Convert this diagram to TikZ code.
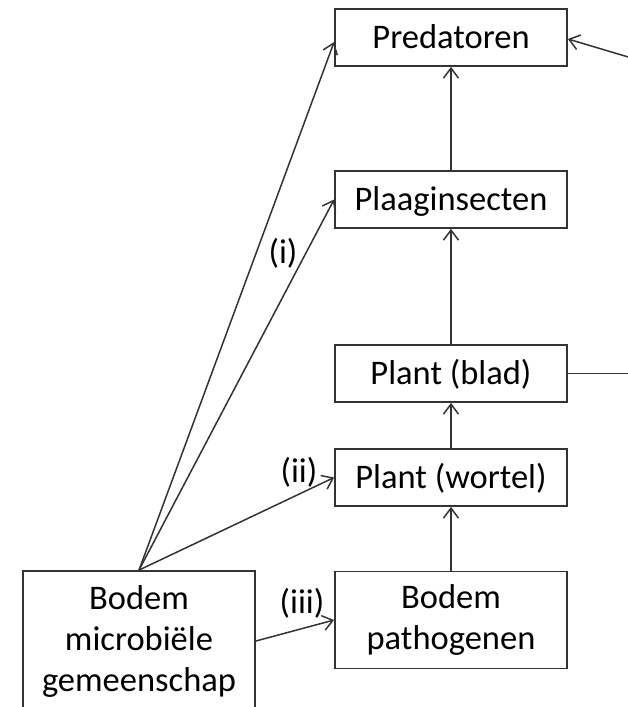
\documentclass[tikz,border=0pt]{standalone}
\usepackage{fontspec}
\setmainfont{Carlito}
\usetikzlibrary{arrows.meta}
\begin{document}
\begin{tikzpicture}[x=1bp,y=-1bp,
  box/.style={draw=black!80,line width=1.8bp,minimum width=232bp,minimum height=57bp,inner sep=0pt,
    font=\fontsize{34.5bp}{41bp}\selectfont,align=center},
  one/.style={text height=22bp,text depth=0bp},
  conn/.style={draw=black!80,line width=1.5bp,-{Straight Barb[length=10bp,width=15bp,line width=1.5bp]}},
  plain/.style={draw=black!80,line width=1.5bp},
  lab/.style={inner sep=0pt,font=\fontsize{34.5bp}{41bp}\selectfont}]
\useasboundingbox (0,0) rectangle (628,707);
\node[box,one] (pred) at (451,37.5) {Predatoren};
\node[box,one] (plaag) at (451,199.5) {Plaaginsecten};
\node[box,one] (blad) at (451,373.5) {Plant (blad)};
\node[box,one] (wor) at (451,477.5) {Plant (wortel)};
\node[box,minimum height=97bp] (pat) at (451,620) {Bodem\\pathogenen};
\node[box,minimum height=140bp] (mic) at (139,641) {Bodem\\microbiële\\gemeenschap};
\coordinate (e1) at (650,63.5);
\coordinate (e2) at (650,373.5);
\draw[conn] (mic.north) -- ([yshift=-4.5bp]pred.west);
\draw[conn] (mic.north) -- (plaag.west);
\draw[conn] (mic.north) -- (wor.west);
\draw[conn] (mic.east) -- (pat.west);
\draw[conn] (pat.north) -- (wor.south);
\draw[conn] (wor.north) -- (blad.south);
\draw[conn] (blad.north) -- (plaag.south);
\draw[conn] (plaag.north) -- (pred.south);
\draw[conn] (e1) -- ([yshift=-1.5bp]pred.east);
\draw[plain] (blad.east) -- (e2);
\node[lab] (li) at (283,253) {(i)};
\node[lab] (lii) at (299,472) {(ii)};
\node[lab] (liii) at (302,603) {(iii)};
\end{tikzpicture}
\end{document}
